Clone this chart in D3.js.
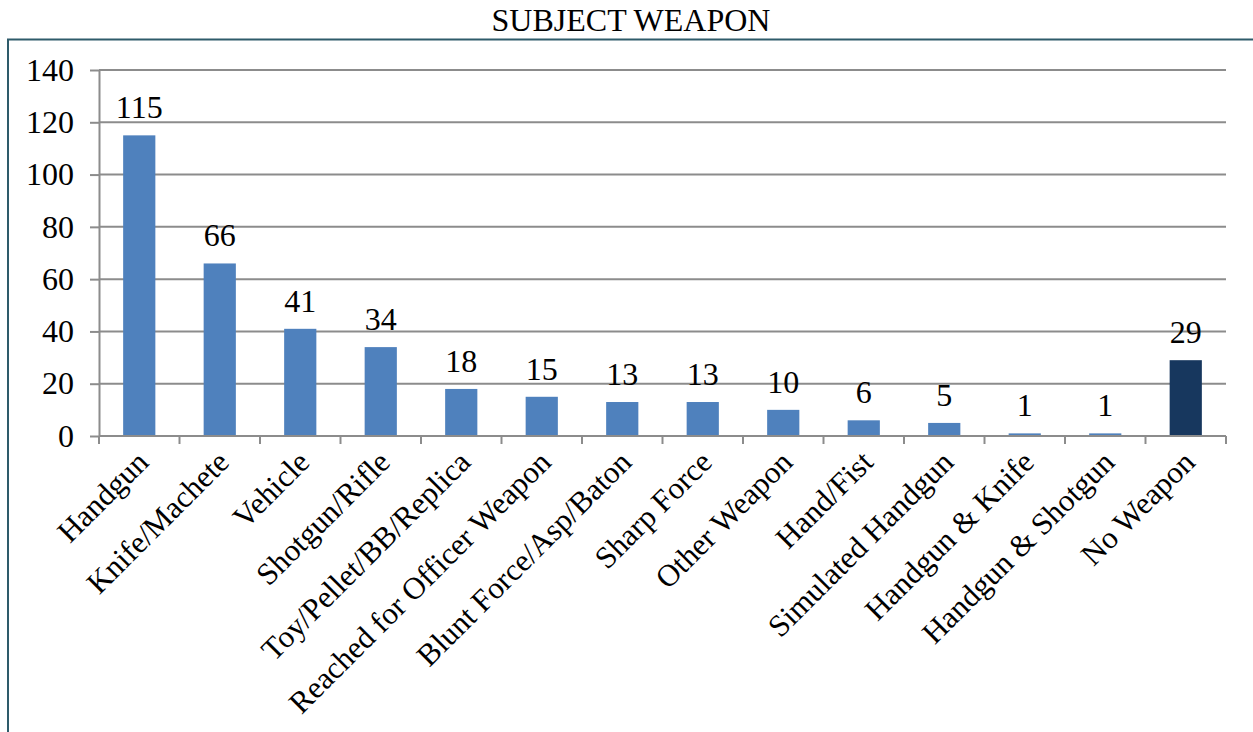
<!DOCTYPE html>
<html>
<head>
<meta charset="utf-8">
<script src="https://cdn.jsdelivr.net/npm/d3@7"></script>
<style>
  body { margin: 0; background: #fff; }
  svg { display: block; font-family: "Liberation Serif", "Times New Roman", serif; }
  .grid line { stroke: #8c8c8c; stroke-width: 2; }
  .axis path, .axis line { stroke: #8c8c8c; stroke-width: 2; }
</style>
</head>
<body>
<script>
const width = 1253, height = 732;

// data
const categories = ["Handgun", "Knife/Machete", "Vehicle", "Shotgun/Rifle", "Toy/Pellet/BB/Replica",
  "Reached for Officer Weapon", "Blunt Force/Asp/Baton", "Sharp Force", "Other Weapon", "Hand/Fist",
  "Simulated Handgun", "Handgun & Knife", "Handgun & Shotgun", "No Weapon"];
const counts = [115, 66, 41, 34, 18, 15, 13, 13, 10, 6, 5, 1, 1, 29];
const yTicks = [0, 20, 40, 60, 80, 100, 120, 140];

const margin = {left: 99, right: 27, top: 70, bottom: 296};

const svg = d3.select("body").append("svg")
    .attr("width", width)
    .attr("height", height);

// frame
svg.append("path")
    .attr("d", `M8,${height} V39.5 H${width}`)
    .attr("fill", "none")
    .attr("stroke", "#2e5b6a")
    .attr("stroke-width", 2);

svg.append("text")
    .attr("x", 631)
    .attr("y", 31)
    .attr("text-anchor", "middle")
    .attr("font-size", 32)
    .text("SUBJECT WEAPON");

const x = d3.scaleBand()
    .domain(categories)
    .range([margin.left, width - margin.right]);

const y = d3.scaleLinear()
    .domain([0, 140])
    .range([height - margin.bottom, margin.top]);

// gridlines
svg.append("g")
    .attr("class", "grid")
    .selectAll("line")
    .data(yTicks.slice(1))
    .enter().append("line")
    .attr("x1", margin.left)
    .attr("x2", width - margin.right)
    .attr("y1", d => y(d))
    .attr("y2", d => y(d));

// y axis
const yAxis = svg.append("g")
    .attr("class", "axis")
    .attr("transform", `translate(${margin.left},0)`)
    .call(d3.axisLeft(y).tickValues(yTicks).tickSize(9).tickPadding(16).tickSizeOuter(0));
yAxis.attr("font-family", null).attr("font-size", null);
yAxis.selectAll("text")
    .attr("font-size", 32)
    .attr("fill", "#000");

// bars
svg.append("g")
    .selectAll("rect")
    .data(counts)
    .enter().append("rect")
    .attr("x", (d, i) => x(categories[i]) + x.bandwidth() * 0.3)
    .attr("width", x.bandwidth() * 0.4)
    .attr("y", d => y(d))
    .attr("height", d => y(0) - y(d))
    .attr("fill", (d, i) => i === categories.length - 1 ? "#17375e" : "#4f81bd");

// value labels
svg.append("g")
    .selectAll("text")
    .data(counts)
    .enter().append("text")
    .attr("x", (d, i) => x(categories[i]) + x.bandwidth() / 2)
    .attr("y", d => y(d) - 17)
    .attr("text-anchor", "middle")
    .attr("font-size", 32)
    .text(d => d);

// x axis line and boundary ticks
const xAxis = svg.append("g")
    .attr("class", "axis");
xAxis.append("line")
    .attr("x1", margin.left)
    .attr("x2", width - margin.right)
    .attr("y1", y(0))
    .attr("y2", y(0));
xAxis.selectAll(".tick")
    .data(categories.concat([null]))
    .enter().append("line")
    .attr("class", "tick")
    .attr("x1", (d, i) => margin.left + i * x.bandwidth())
    .attr("x2", (d, i) => margin.left + i * x.bandwidth())
    .attr("y1", y(0))
    .attr("y2", y(0) + 8);

// category labels
svg.append("g")
    .selectAll("text")
    .data(categories)
    .enter().append("text")
    .attr("transform", d => `translate(${x(d) + x.bandwidth() / 2 + 11},${y(0) + 28}) rotate(-45)`)
    .attr("text-anchor", "end")
    .attr("font-size", 31)
    .text(d => d);
</script>
</body>
</html>
